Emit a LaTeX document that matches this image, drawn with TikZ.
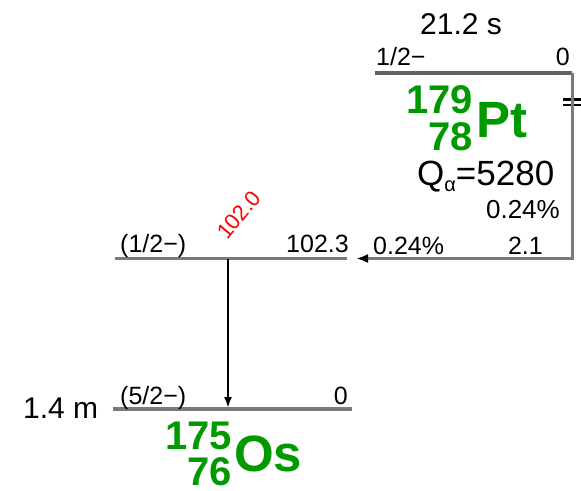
\documentclass[tikz,border=0pt]{standalone}
\usepackage{fontspec}
\setmainfont{Liberation Sans}
\usetikzlibrary{arrows.meta}
\definecolor{lvgray}{HTML}{7A7A7A}
\definecolor{nucgreen}{HTML}{009A00}
\definecolor{gred}{HTML}{FF0000}
\begin{document}
\begin{tikzpicture}[x=1pt,y=-1pt,
  level/.style={draw=lvgray, line width=3.5pt},
  lbl/.style={inner sep=0pt, font=\fontsize{25}{28}\selectfont},
  trans/.style={draw=black, line width=2pt, -{Latex[length=11pt,width=8pt]}},
  feed/.style={draw=lvgray, line width=3pt, -{Latex[length=12pt,width=9pt,color=black]}},
  nucnum/.style={inner sep=0pt, text=nucgreen, font=\bfseries\fontsize{40}{44}\selectfont},
  nucsym/.style={inner sep=0pt, text=nucgreen, font=\bfseries\fontsize{51}{54}\selectfont},
  hl/.style={inner sep=0pt, font=\fontsize{30}{32}\selectfont},
  ]
\useasboundingbox (0,0) rectangle (581,490);

% parent level 179Pt
\coordinate (ptL) at (375,73);
\coordinate (ptR) at (572,73);
\draw[level, draw=lvgray!80!black] (ptL) -- (ptR);
\node[lbl, anchor=base west] (ptspin) at (376,65) {1/2−};
\node[lbl, anchor=base east] (pten) at (570,65) {0};
\node[hl, anchor=base west] (pthl) at (420,34) {21.2 s};
\node[nucnum, anchor=base east] (ptA) at (473,113) {179};
\node[nucnum, anchor=base east] (ptZ) at (473,150) {78};
\node[nucsym, anchor=base west] (ptsym) at (476,137) {Pt};
\node[inner sep=0pt, anchor=base west, font=\fontsize{35}{36}\selectfont] (qa) at (417,185) {Q\raisebox{-6pt}{\fontsize{20}{20}\selectfont α}=5280};
\node[lbl, anchor=base east, font=\fontsize{26}{28}\selectfont] (br) at (560,218) {0.24\%};

% break mark on feeding line
\draw[black, line width=2.5pt] (563,99.5) -- (581,99.5);
\draw[black, line width=2.5pt] (563,105) -- (581,105);

% feeding path
\coordinate (feedEnd) at (356,258.5);
\draw[feed] (ptR) |- (feedEnd);
\node[lbl, anchor=base west] (fint) at (373,254) {0.24\%};
\node[lbl, anchor=base east] (fq) at (543,254) {2.1};

% excited level
\coordinate (exL) at (115,258.5);
\coordinate (exR) at (347,258.5);
\draw[level] (exL) -- (exR);
\node[lbl, anchor=base west] (exspin) at (120,252) {(1/2−)};
\node[lbl, anchor=base east] (exen) at (349,252) {102.3};
\node[inner sep=0pt, text=gred, rotate=50, font=\fontsize{22}{24}\selectfont] (gam) at (239,215) {102.0};

% gamma transition
\coordinate (t1) at (228,259);
\coordinate (t0) at (228,408);
\draw[trans] (t1) -- (t0);

% ground level 175Os
\coordinate (gsL) at (113,409);
\coordinate (gsR) at (352,409);
\draw[level] (gsL) -- (gsR);
\node[lbl, anchor=base west] (gsspin) at (120,404) {(5/2−)};
\node[lbl, anchor=base east] (gsen) at (348,404) {0};
\node[hl, anchor=base west] (gshl) at (23,418) {1.4 m};
\node[nucnum, anchor=base east] (osA) at (232,449) {175};
\node[nucnum, anchor=base east] (osZ) at (232,485) {76};
\node[nucsym, anchor=base west] (ossym) at (234,471) {Os};
\end{tikzpicture}
\end{document}
